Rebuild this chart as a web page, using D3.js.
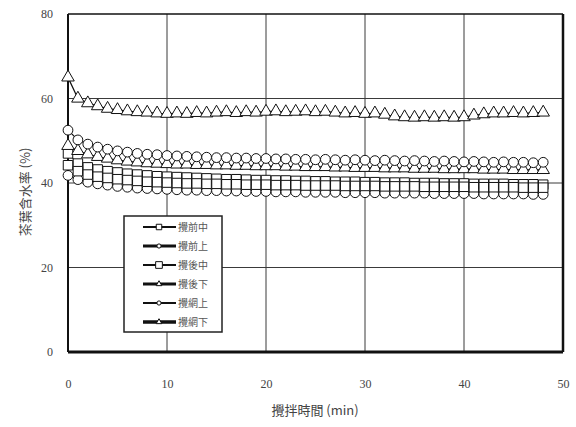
<!DOCTYPE html>
<html>
<head>
<meta charset="utf-8">
<script src="https://cdn.jsdelivr.net/npm/d3@7"></script>
<style>
  body { margin: 0; background: #fff; }
  text { font-family: "Liberation Serif", "DejaVu Serif", serif; fill: #333; }
  .cjk { font-family: "Noto Sans CJK TC", "Noto Sans CJK SC", sans-serif; }
</style>
</head>
<body>
<div id="chart"></div>
<script>
// x values: minutes 0..48
var minutes = d3.range(0, 49);
var xTicks = [0, 10, 20, 30, 40, 50];
var yTicks = [0, 20, 40, 60, 80];

var seriesNames = ["攪前中", "攪前上", "攪後中", "攪後下", "攪網上", "攪網下"];

var squareHigh = [47.0, 44.6, 43.7, 43.2, 42.8, 42.5, 42.2, 42.0, 41.8, 41.6, 41.5, 41.4, 41.3, 41.2, 41.1, 41.0, 40.9, 40.9, 40.8, 40.7, 40.7, 40.6, 40.6, 40.5, 40.5, 40.4, 40.4, 40.3, 40.3, 40.3, 40.2, 40.2, 40.1, 40.1, 40.1, 40.0, 40.0, 40.0, 39.9, 39.9, 39.9, 39.8, 39.8, 39.8, 39.8, 39.7, 39.7, 39.7, 39.6];
var circleLow = [41.8, 40.8, 40.2, 39.8, 39.5, 39.2, 39.0, 38.8, 38.7, 38.6, 38.5, 38.4, 38.3, 38.3, 38.2, 38.2, 38.1, 38.1, 38.0, 38.0, 38.0, 37.9, 37.9, 37.9, 37.8, 37.8, 37.8, 37.8, 37.7, 37.7, 37.7, 37.7, 37.6, 37.6, 37.6, 37.6, 37.6, 37.5, 37.5, 37.5, 37.5, 37.5, 37.4, 37.4, 37.4, 37.4, 37.4, 37.3, 37.3];
var squareLow = [44.2, 42.8, 42.0, 41.5, 41.2, 40.9, 40.7, 40.5, 40.3, 40.2, 40.1, 40.0, 39.9, 39.9, 39.8, 39.8, 39.7, 39.7, 39.6, 39.6, 39.6, 39.5, 39.5, 39.5, 39.4, 39.4, 39.4, 39.4, 39.3, 39.3, 39.3, 39.3, 39.2, 39.2, 39.2, 39.2, 39.1, 39.1, 39.1, 39.1, 39.1, 39.0, 39.0, 39.0, 39.0, 39.0, 38.9, 38.9, 38.9];
var triangleLow = [48.8, 47.6, 46.8, 46.2, 45.8, 45.4, 45.1, 44.9, 44.7, 44.6, 44.5, 44.4, 44.4, 44.3, 44.3, 44.2, 44.2, 44.1, 44.1, 44.0, 44.0, 44.0, 43.9, 43.9, 43.8, 43.8, 43.8, 43.7, 43.7, 43.6, 43.6, 43.6, 43.5, 43.5, 43.5, 43.4, 43.4, 43.4, 43.3, 43.3, 43.3, 43.3, 43.2, 43.2, 43.2, 43.1, 43.1, 43.1, 43.1];
var circleHigh = [52.5, 50.2, 49.2, 48.5, 48.0, 47.6, 47.3, 47.0, 46.8, 46.7, 46.5, 46.4, 46.3, 46.2, 46.1, 46.0, 46.0, 45.9, 45.9, 45.8, 45.8, 45.7, 45.7, 45.6, 45.6, 45.5, 45.6, 45.5, 45.4, 45.5, 45.4, 45.3, 45.4, 45.3, 45.2, 45.3, 45.2, 45.1, 45.2, 45.1, 45.0, 45.1, 45.0, 44.9, 45.0, 44.9, 44.9, 44.8, 44.9];
var triangleHigh = [65.0, 60.0, 58.9, 58.2, 57.6, 57.3, 57.0, 56.8, 56.7, 56.5, 56.4, 56.5, 56.4, 56.6, 56.5, 56.7, 56.8, 56.6, 56.8, 56.7, 56.9, 57.0, 56.8, 56.9, 57.0, 56.8, 56.9, 56.7, 56.5, 56.6, 56.4, 56.5, 56.2, 55.8, 55.6, 55.5, 55.6, 55.5, 55.6, 55.5, 55.6, 56.0, 56.3, 56.5, 56.5, 56.6, 56.5, 56.6, 56.7];

var seriesValues = [squareHigh, circleLow, squareLow, triangleLow, circleHigh, triangleHigh];
var seriesSymbols = [d3.symbolSquare, d3.symbolCircle, d3.symbolSquare, d3.symbolTriangle, d3.symbolCircle, d3.symbolTriangle];
var symbolSizes = [90, 75, 90, 68, 75, 68];
var legendLineWidth = [2, 3, 2, 3, 2, 3.5];
var legendSymbolSize = [30, 14, 45, 14, 14, 14];

var W = 576, H = 427;
var margin = {top: 14, right: 13, bottom: 75, left: 68};
var width = W - margin.left - margin.right,
    height = H - margin.top - margin.bottom;

var svg = d3.select("#chart").append("svg")
  .attr("width", W)
  .attr("height", H);

var g = svg.append("g")
  .attr("transform", "translate(" + margin.left + "," + margin.top + ")");

var x = d3.scaleLinear().domain([0, 50]).range([0, width]);
var y = d3.scaleLinear().domain([0, 80]).range([height, 0]);

// grid lines
g.selectAll(".vgrid").data(xTicks.slice(1, -1)).enter().append("line")
  .attr("x1", function(d) { return x(d); }).attr("x2", function(d) { return x(d); })
  .attr("y1", 0).attr("y2", height)
  .style("stroke", "#3a3a3a").style("stroke-width", 1);
g.selectAll(".hgrid").data(yTicks.slice(1, -1)).enter().append("line")
  .attr("x1", 0).attr("x2", width)
  .attr("y1", function(d) { return y(d); }).attr("y2", function(d) { return y(d); })
  .style("stroke", "#3a3a3a").style("stroke-width", 1);

// frame
g.append("line").attr("x1", 0).attr("x2", width).attr("y1", 0).attr("y2", 0)
  .style("stroke", "#111").style("stroke-width", 1.5);
g.append("line").attr("x1", width).attr("x2", width).attr("y1", 0).attr("y2", height)
  .style("stroke", "#111").style("stroke-width", 2.5);
g.append("line").attr("x1", 0).attr("x2", 0).attr("y1", 0).attr("y2", height)
  .style("stroke", "#111").style("stroke-width", 2);
g.append("line").attr("x1", 0).attr("x2", width).attr("y1", height).attr("y2", height)
  .style("stroke", "#111").style("stroke-width", 3);

// tick labels through axes
var xAxis = g.append("g")
  .attr("transform", "translate(0," + height + ")")
  .call(d3.axisBottom(x).tickValues(xTicks).tickSize(0).tickPadding(27));
var yAxis = g.append("g")
  .call(d3.axisLeft(y).tickValues(yTicks).tickSize(0).tickPadding(15));
[xAxis, yAxis].forEach(function(a) {
  a.select(".domain").remove();
  a.selectAll("text")
    .style("font-family", "'Liberation Serif', serif")
    .style("font-size", "12px")
    .style("fill", "#444");
});

// series
var line = d3.line()
  .x(function(d, i) { return x(minutes[i]); })
  .y(function(d) { return y(d); });

seriesValues.forEach(function(vals, k) {
  g.append("path")
    .datum(vals)
    .attr("d", line)
    .style("fill", "none")
    .style("stroke", "#111")
    .style("stroke-width", 1.2);
  g.selectAll(".pt" + k).data(vals).enter().append("path")
    .attr("transform", function(d, i) { return "translate(" + x(minutes[i]) + "," + y(d) + ")"; })
    .attr("d", d3.symbol().type(seriesSymbols[k]).size(symbolSizes[k]))
    .style("fill", "#fff")
    .style("stroke", "#111")
    .style("stroke-width", 1);
});

// legend
var legend = svg.append("g").attr("transform", "translate(124,216)");
legend.append("rect")
  .attr("width", 98).attr("height", 116)
  .style("fill", "#fff").style("stroke", "#222").style("stroke-width", 1.5);
seriesNames.forEach(function(name, k) {
  var ly = 11 + k * 19;
  legend.append("line")
    .attr("x1", 19).attr("x2", 52).attr("y1", ly).attr("y2", ly)
    .style("stroke", "#111").style("stroke-width", legendLineWidth[k]);
  legend.append("path")
    .attr("transform", "translate(35," + ly + ")")
    .attr("d", d3.symbol().type(seriesSymbols[k]).size(legendSymbolSize[k]))
    .style("fill", "#fff").style("stroke", "#111").style("stroke-width", 1);
  legend.append("text")
    .attr("class", "cjk")
    .attr("x", 54).attr("y", ly + 4)
    .style("font-size", "10px")
    .style("fill", "#555")
    .text(name);
});

// axis titles
svg.append("text")
  .attr("class", "cjk")
  .attr("x", 315).attr("y", 415)
  .attr("text-anchor", "middle")
  .style("font-size", "13px")
  .style("fill", "#444")
  .text("攪拌時間 (min)");
svg.append("text")
  .attr("class", "cjk")
  .attr("transform", "translate(30,192) rotate(-90)")
  .attr("text-anchor", "middle")
  .style("font-size", "13px")
  .style("fill", "#444")
  .text("茶葉含水率 (%)");
</script>
</body>
</html>
